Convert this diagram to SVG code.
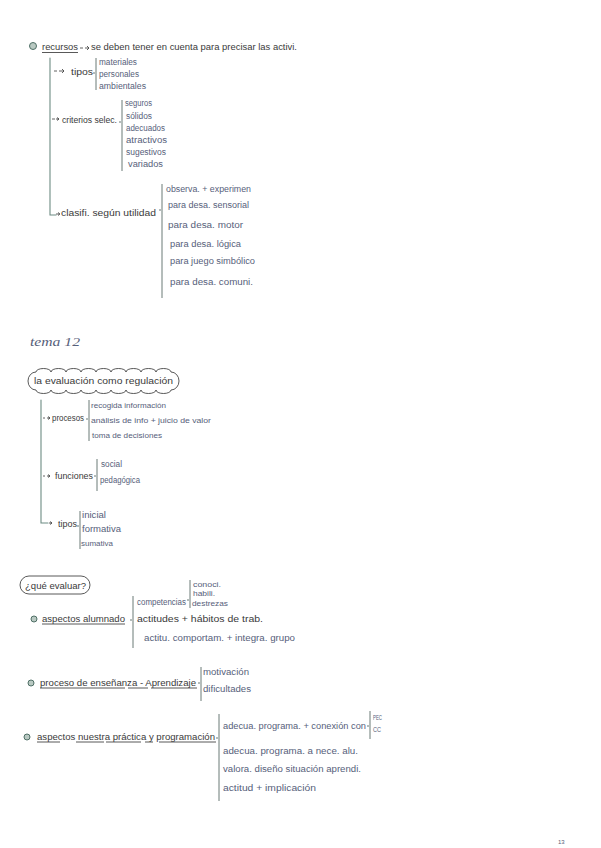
<svg xmlns="http://www.w3.org/2000/svg" width="601" height="848" viewBox="0 0 601 848">
<style>
text{font-family:"Liberation Sans","DejaVu Sans",sans-serif;}
.m{font-size:9.5px;fill:#3a3a3a;}
.s{font-size:8.5px;fill:#56607a;}
.t{font-size:7.5px;fill:#56607a;}
.ln{stroke:#6d8c83;stroke-width:1.1;fill:none;stroke-linecap:round;}
.bar{stroke:#5a6b66;stroke-width:0.9;fill:none;}
.ul{stroke:#2e2e2e;stroke-width:0.8;fill:none;}
.ar{stroke:#3a3a3a;stroke-width:0.8;fill:none;}
.bul{fill:#b9c9c2;stroke:#4f6f66;stroke-width:1;}
</style>
<rect width="601" height="848" fill="#ffffff"/>
<g id="connectors">
  <path class="ln" d="M50,58 V215 H56"/>
  <path class="ar" d="M80,48 h3 M85,48 h4 M87,46 l2,2 l-2,2"/>
  <path class="ar" d="M54,71 h3 M59,71 h5 M62,69 l2,2 l-2,2"/>
  <path class="ar" d="M52,119 h3 M56,119 h3 M57,117.5 l2,1.5 l-2,1.5"/>
  <path class="ar" d="M56,214 h3 M58,212.5 l2,1.5 l-2,1.5"/>
  <path class="bar" d="M96,58 V90 M95,73 h-2"/>
  <path class="bar" d="M122,100 V171 M121,122 h-2"/>
  <path class="bar" d="M162,184 V298 M161,210 h-2"/>
  <path class="ln" d="M41,400 V523 H48"/>
  <path class="ar" d="M43,418 h2 M47,418 h3 M48,416.5 l2,1.5 l-2,1.5"/>
  <path class="ar" d="M43,476 h2 M47,476 h3 M48,474.5 l2,1.5 l-2,1.5"/>
  <path class="ar" d="M49,523 h3 M50,521.5 l2,1.5 l-2,1.5"/>
  <path class="bar" d="M89,400 V441 M88,419 h-2"/>
  <path class="bar" d="M97,459 V491 M96,476 h-2"/>
  <path class="bar" d="M80,511 V549 M79,526 h-2"/>
  <path class="bar" d="M133,596 V648 M132,620 h-2"/>
  <path class="bar" d="M190,580 V608 M189,600 h-2"/>
  <path class="bar" d="M201,667 V701 M200,683 h-2"/>
  <path class="bar" d="M219,714 V801 M218,738 h-2"/>
  <path class="bar" d="M370,711 V739 M369,726 h-2"/>
  <path class="ul" d="M42,52.5 H78"/>
  <path class="ul" d="M42,624 H125"/>
  <path class="ul" d="M40,688 H125 M128,688 H148 M151,688 H197"/>
  <path class="ul" d="M37,742 H60 M76,742 H104 M106,742 H141 M145,742 H153 M159,742 H216"/>
</g>
<g id="n-recursos">
  <circle class="bul" cx="33" cy="46" r="3.5"/>
  <text class="m" x="42" y="50" textLength="36" lengthAdjust="spacingAndGlyphs">recursos</text>
  <text class="m" x="91" y="50" textLength="206" lengthAdjust="spacingAndGlyphs">se deben tener en cuenta para precisar las activi.</text>
</g>
<g id="n-tipos1">
  <text class="m" x="71" y="75" textLength="22" lengthAdjust="spacingAndGlyphs">tipos</text>
  <text class="s" x="99" y="65" textLength="38" lengthAdjust="spacingAndGlyphs">materiales</text>
  <text class="s" x="99" y="77" textLength="40" lengthAdjust="spacingAndGlyphs">personales</text>
  <text class="s" x="99" y="89" textLength="47" lengthAdjust="spacingAndGlyphs">ambientales</text>
</g>
<g id="n-criterios">
  <text class="m" x="62" y="123" textLength="55" lengthAdjust="spacingAndGlyphs">criterios selec.</text>
  <text class="s" x="125" y="106" textLength="27" lengthAdjust="spacingAndGlyphs">seguros</text>
  <text class="s" x="126" y="119" textLength="26" lengthAdjust="spacingAndGlyphs">sólidos</text>
  <text class="s" x="126" y="131" textLength="39" lengthAdjust="spacingAndGlyphs">adecuados</text>
  <text class="s" x="126" y="143" textLength="41" lengthAdjust="spacingAndGlyphs">atractivos</text>
  <text class="s" x="126" y="155" textLength="40" lengthAdjust="spacingAndGlyphs">sugestivos</text>
  <text class="s" x="128" y="167" textLength="35" lengthAdjust="spacingAndGlyphs">variados</text>
</g>
<g id="n-clasifi">
  <text class="m" x="61" y="216" textLength="95" lengthAdjust="spacingAndGlyphs">clasifi. según utilidad</text>
  <text class="s" x="166" y="192" textLength="85" lengthAdjust="spacingAndGlyphs">observa. + experimen</text>
  <text class="s" x="168" y="208" textLength="81" lengthAdjust="spacingAndGlyphs">para desa. sensorial</text>
  <text class="s" x="168" y="228" textLength="75" lengthAdjust="spacingAndGlyphs">para desa. motor</text>
  <text class="s" x="170" y="247" textLength="71" lengthAdjust="spacingAndGlyphs">para desa. lógica</text>
  <text class="s" x="170" y="264" textLength="85" lengthAdjust="spacingAndGlyphs">para juego simbólico</text>
  <text class="s" x="170" y="285" textLength="83" lengthAdjust="spacingAndGlyphs">para desa. comuni.</text>
</g>
<g id="n-tema">
  <text x="30" y="346" style="font-family:'Liberation Serif',serif;font-style:italic;font-size:12px;fill:#56607a" textLength="50" lengthAdjust="spacingAndGlyphs">tema 12</text>
</g>
<g id="n-evaluacion">
  <path d="M36,372 a7.5,3.5 0 0 1 15,0 a7.5,3.5 0 0 1 15,0 a7.5,3.5 0 0 1 15,0 a7.5,3.5 0 0 1 15,0 a7.5,3.5 0 0 1 15,0 a7.5,3.5 0 0 1 15,0 a7.5,3.5 0 0 1 15,0 a7.5,3.5 0 0 1 15,0 a7.5,3.5 0 0 1 15,0 a8,9 0 0 1 0,18 a7.5,3.5 0 0 1 -15,0 a7.5,3.5 0 0 1 -15,0 a7.5,3.5 0 0 1 -15,0 a7.5,3.5 0 0 1 -15,0 a7.5,3.5 0 0 1 -15,0 a7.5,3.5 0 0 1 -15,0 a7.5,3.5 0 0 1 -15,0 a7.5,3.5 0 0 1 -15,0 a7.5,3.5 0 0 1 -15,0 a8,9 0 0 1 0,-18 z" fill="none" stroke="#2e2e2e" stroke-width="0.8"/>
  <text class="m" x="34" y="384" textLength="139" lengthAdjust="spacingAndGlyphs">la evaluación  como regulación</text>
</g>
<g id="n-procesos">
  <text class="m" x="52" y="421" textLength="32" lengthAdjust="spacingAndGlyphs">procesos</text>
  <text class="t" x="91" y="408" textLength="75" lengthAdjust="spacingAndGlyphs">recogida información</text>
  <text class="t" x="91" y="423" textLength="120" lengthAdjust="spacingAndGlyphs">análisis de info + juicio de valor</text>
  <text class="t" x="92" y="438" textLength="70" lengthAdjust="spacingAndGlyphs">toma de decisiones</text>
</g>
<g id="n-funciones">
  <text class="m" x="55" y="479" textLength="38" lengthAdjust="spacingAndGlyphs">funciones</text>
  <text class="s" x="101" y="467" textLength="21" lengthAdjust="spacingAndGlyphs">social</text>
  <text class="s" x="100" y="483" textLength="40" lengthAdjust="spacingAndGlyphs">pedagógica</text>
</g>
<g id="n-tipos2">
  <text class="m" x="58" y="527" textLength="19" lengthAdjust="spacingAndGlyphs">tipos</text>
  <text class="s" x="82" y="518" textLength="24" lengthAdjust="spacingAndGlyphs">inicial</text>
  <text class="s" x="82" y="532" textLength="39" lengthAdjust="spacingAndGlyphs">formativa</text>
  <text class="t" x="81" y="546" textLength="32" lengthAdjust="spacingAndGlyphs">sumativa</text>
</g>
<g id="n-que">
  <rect x="20" y="576" width="70" height="18" rx="9" fill="none" stroke="#2e2e2e" stroke-width="0.8"/>
  <text class="m" x="25" y="589" textLength="61" lengthAdjust="spacingAndGlyphs">¿qué evaluar?</text>
</g>
<g id="n-alumnado">
  <circle class="bul" cx="34" cy="619" r="3"/>
  <text class="m" x="42" y="622" textLength="83" lengthAdjust="spacingAndGlyphs">aspectos alumnado</text>
  <text class="s" x="137" y="605" textLength="49" lengthAdjust="spacingAndGlyphs">competencias</text>
  <text class="t" x="193" y="587" textLength="28" lengthAdjust="spacingAndGlyphs">conoci.</text>
  <text class="t" x="193" y="596" textLength="22" lengthAdjust="spacingAndGlyphs">habili.</text>
  <text class="t" x="192" y="606" textLength="36" lengthAdjust="spacingAndGlyphs">destrezas</text>
  <text class="m" x="137" y="622" textLength="126" lengthAdjust="spacingAndGlyphs">actitudes + hábitos de trab.</text>
  <text class="s" x="144" y="641" textLength="151" lengthAdjust="spacingAndGlyphs">actitu. comportam. + integra. grupo</text>
</g>
<g id="n-proceso">
  <circle class="bul" cx="31" cy="683" r="3"/>
  <text class="m" x="40" y="686" textLength="156" lengthAdjust="spacingAndGlyphs">proceso de enseñanza - Aprendizaje</text>
  <text class="s" x="203" y="675" textLength="46" lengthAdjust="spacingAndGlyphs">motivación</text>
  <text class="s" x="203" y="692" textLength="48" lengthAdjust="spacingAndGlyphs">dificultades</text>
</g>
<g id="n-practica">
  <circle class="bul" cx="27" cy="737" r="3"/>
  <text class="m" x="37" y="740" textLength="178" lengthAdjust="spacingAndGlyphs">aspectos nuestra práctica y programación</text>
  <text class="s" x="223" y="729" textLength="143" lengthAdjust="spacingAndGlyphs">adecua. programa. + conexión con</text>
  <text class="t" x="373" y="720" textLength="9" lengthAdjust="spacingAndGlyphs">PEC</text>
  <text class="t" x="373" y="732" textLength="8" lengthAdjust="spacingAndGlyphs">CC</text>
  <text class="s" x="223" y="754" textLength="135" lengthAdjust="spacingAndGlyphs">adecua. programa. a nece. alu.</text>
  <text class="s" x="223" y="772" textLength="138" lengthAdjust="spacingAndGlyphs">valora. diseño situación aprendi.</text>
  <text class="s" x="223" y="791" textLength="93" lengthAdjust="spacingAndGlyphs">actitud + implicación</text>
</g>
<g id="n-page">
  <text x="558" y="844" style="font-size:6px;fill:#56607a">13</text>
</g>
</svg>
